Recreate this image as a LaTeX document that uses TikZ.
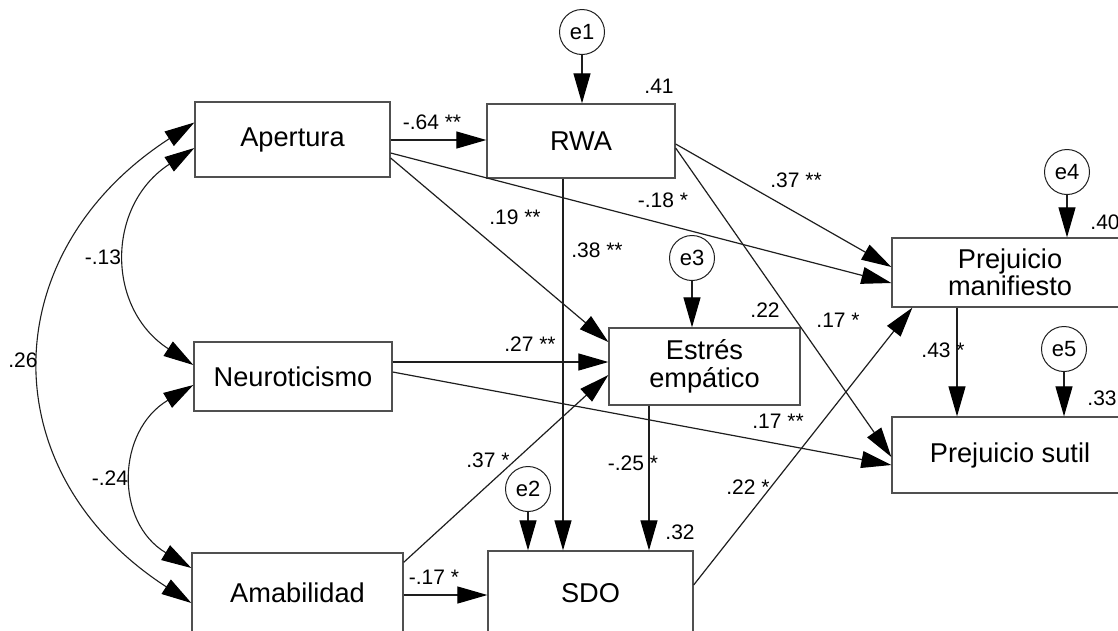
\documentclass[tikz,border=0pt]{standalone}
\usepackage{fontspec}
\setmainfont{Liberation Sans}
\usetikzlibrary{arrows.meta,calc}
\definecolor{boxgray}{HTML}{505050}
\definecolor{linegray}{HTML}{1E1E1E}
\begin{document}
\begin{tikzpicture}[x=1pt,y=-1pt,
  var/.style={draw=boxgray,line width=1.3pt,fill=white,inner sep=0pt,align=center,
              font=\fontsize{27.2}{29.5}\selectfont},
  err/.style={draw=linegray,circle,line width=1pt,minimum size=45pt,inner sep=0pt,
              font=\fontsize{22}{24}\selectfont},
  tip/.tip={Triangle[length=30pt,width=17pt,color=black]},
  path/.style={draw=linegray,line width=1.2pt,-tip},
  cov/.style={draw=linegray,line width=1.1pt,tip-tip},
  lbl/.style={inner sep=0pt,font=\fontsize{21}{23}\selectfont}]
\useasboundingbox (0,0) rectangle (1118,630);
\clip (0,0) rectangle (1118,630);

% observed variables
\node[var,minimum width=195pt,minimum height=75pt] (ap) at (292.5,139.5) {Apertura};
\node[var,minimum width=198pt,minimum height=69pt] (ne) at (293,376.5) {Neuroticismo};
\node[var,minimum width=211pt,minimum height=80pt] (am) at (297.5,593) {Amabilidad};
\node[var,minimum width=188pt,minimum height=74pt] (rwa) at (581,141) {RWA};
\node[var,minimum width=191pt,minimum height=77pt] (es) at (704.5,366.5) {Estrés\\[-2pt]empático};
\node[var,minimum width=205pt,minimum height=84pt] (sdo) at (590.5,593) {SDO};
\node[var,minimum width=236pt,minimum height=69pt] (pm) at (1010,272.5) {Prejuicio\\[-2pt]manifiesto};
\node[var,minimum width=236pt,minimum height=76pt] (ps) at (1010,455) {Prejuicio sutil};

% error terms
\node[err] (e1) at (582,32) {e1};
\node[err] (e2) at (528,489) {e2};
\node[err] (e3) at (692,258) {e3};
\node[err] (e4) at (1067,172) {e4};
\node[err] (e5) at (1064,349) {e5};

% residual paths
\draw[path] (e1.south) -- (e1.south |- rwa.north);
\draw[path] (e2.south) -- (e2.south |- sdo.north);
\draw[path] (e3.south) -- (e3.south |- es.north);
\draw[path] (e4.south) -- (e4.south |- pm.north);
\draw[path] (e5.south) -- (e5.south |- ps.north);

% covariances among the exogenous traits
\coordinate (apA) at ($(ap.west)+(0,-17)$);
\coordinate (apB) at ($(ap.west)+(0,8.5)$);
\coordinate (neA) at ($(ne.west)+(0,-11.5)$);
\coordinate (neB) at ($(ne.west)+(0,8.5)$);
\coordinate (amA) at ($(am.west)+(0,-25)$);
\coordinate (amB) at ($(am.west)+(0,10)$);
\draw[cov] (apA) .. controls ($(apA)+(-201,130)$) and ($(amB)+(-201,-130)$) .. (amB);
\draw[cov] (apB) .. controls ($(apB)+(-88,57)$) and ($(neA)+(-88,-57)$) .. (neA);
\draw[cov] (neB) .. controls ($(neB)+(-77,46)$) and ($(amA)+(-77,-46)$) .. (amA);
\node[lbl] (c1) at (23,360) {.26};
\node[lbl] (c2) at (103,257) {-.13};
\node[lbl] (c3) at (110,478) {-.24};

% structural paths
\draw[path] (ap.east |- 0,140) -- (rwa.west |- 0,140);
\draw[path] ($(ap.east)+(0,13.5)$) -- ($(pm.west)+(0,10.5)$);
\draw[path] ($(ap.east)+(0,18.5)$) -- ($(es.west)+(0,-24.5)$);
\draw[path] ($(rwa.south)+(-18,0)$) -- ($(sdo.north)+(-27.5,0)$);
\draw[path] ($(rwa.east)+(0,3)$) -- ($(pm.west)+(0,-5.5)$);
\draw[path] ($(rwa.east)+(0,7)$) -- ($(ps.west)+(0,2)$);
\draw[path] (ne.east |- 0,362) -- (es.west |- 0,362);
\draw[path] ($(ne.east)+(0,-4.5)$) -- ($(ps.west)+(0,10)$);
\draw[path] ($(am.north east)+(0,10)$) -- ($(es.west)+(0,8.5)$);
\draw[path] (am.east |- 0,595) -- (sdo.west |- 0,595);
\draw[path] ($(es.south)+(-55.5,0)$) -- ($(sdo.north)+(58.5,0)$);
\draw[path] ($(sdo.east)+(0,-8)$) -- ($(pm.south west)+(21,0)$);
\draw[path] ($(pm.south)+(-53,0)$) -- ($(ps.north)+(-53,0)$);

% coefficients
\node[lbl] (l1) at (432,122) {-.64 **};
\node[lbl] (l2) at (663,200) {-.18 *};
\node[lbl] (l3) at (515,217) {.19 **};
\node[lbl] (l4) at (597,250) {.38 **};
\node[lbl] (l5) at (796,180) {.37 **};
\node[lbl] (l6) at (838,320) {.17 *};
\node[lbl] (l7) at (530,344) {.27 **};
\node[lbl] (l8) at (778,421) {.17 **};
\node[lbl] (l9) at (488,460) {.37 *};
\node[lbl] (l10) at (434,577) {-.17 *};
\node[lbl] (l11) at (633,463) {-.25 *};
\node[lbl] (l12) at (748,487) {.22 *};
\node[lbl] (l13) at (943,350) {.43 *};

% explained variance
\node[lbl] (r1) at (659,86) {.41};
\node[lbl] (r2) at (680,532) {.32};
\node[lbl] (r3) at (765,310) {.22};
\node[lbl] (r4) at (1105,222) {.40};
\node[lbl] (r5) at (1102,398) {.33};
\end{tikzpicture}
\end{document}
